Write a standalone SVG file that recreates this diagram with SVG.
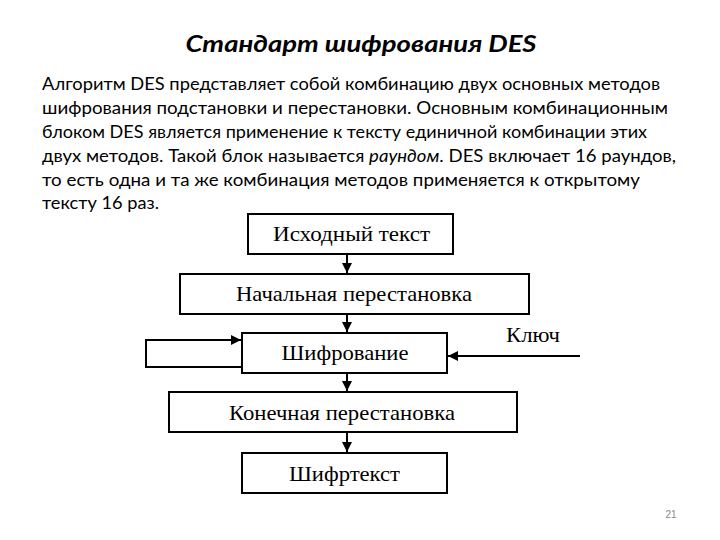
<svg xmlns="http://www.w3.org/2000/svg" width="720" height="540" viewBox="0 0 720 540">
<style>
.box{fill:#fff;stroke:#000;stroke-width:2}
.lbl{font-family:"Liberation Serif","Times New Roman",serif;font-size:22px;fill:#000;text-anchor:middle}
.para{font-family:Lato,"Liberation Sans",sans-serif;font-size:17px;fill:#000}
.conn{fill:none;stroke:#000;stroke-width:2}
</style>
<defs>
<marker id="ah" viewBox="0 0 10 10" refX="10" refY="5" markerWidth="5" markerHeight="5" orient="auto" markerUnits="strokeWidth">
<path d="M0,0 L10,5 L0,10 z" fill="#000"/>
</marker>
</defs>
<rect width="720" height="540" fill="#fff"/>
<g id="title">
<text x="361" y="52" text-anchor="middle" font-family="Lato,'Liberation Sans',sans-serif" font-weight="bold" font-style="italic" font-size="23" textLength="351" lengthAdjust="spacingAndGlyphs">Стандарт шифрования DES</text>
</g>
<g id="paragraph" class="para">
<text x="42" y="90" textLength="618" lengthAdjust="spacingAndGlyphs">Алгоритм DES представляет собой комбинацию двух основных методов</text>
<text x="42" y="114" textLength="626" lengthAdjust="spacingAndGlyphs">шифрования подстановки и перестановки. Основным комбинационным</text>
<text x="42" y="138" textLength="605" lengthAdjust="spacingAndGlyphs">блоком DES является применение к тексту единичной комбинации этих</text>
<text x="42" y="162" textLength="634" lengthAdjust="spacingAndGlyphs">двух методов. Такой блок называется <tspan font-style="italic">раундом</tspan>. DES включает 16 раундов,</text>
<text x="42" y="186" textLength="598" lengthAdjust="spacingAndGlyphs">то есть одна и та же комбинация методов применяется к открытому</text>
<text x="42" y="209" textLength="117" lengthAdjust="spacingAndGlyphs">тексту 16 раз.</text>
</g>
<g id="connectors">
<line class="conn" x1="347" y1="255" x2="347" y2="273" marker-end="url(#ah)"/>
<line class="conn" x1="347" y1="315" x2="347" y2="332" marker-end="url(#ah)"/>
<line class="conn" x1="347" y1="373" x2="347" y2="391" marker-end="url(#ah)"/>
<line class="conn" x1="347" y1="433" x2="347" y2="452" marker-end="url(#ah)"/>
<polyline class="conn" points="242,367 146,367 146,340 241,340" marker-end="url(#ah)"/>
<line class="conn" x1="580" y1="356" x2="448" y2="356" marker-end="url(#ah)"/>
</g>
<g id="n1"><rect class="box" x="248" y="214" width="205" height="40"/><text class="lbl" x="351.5" y="241" textLength="157" lengthAdjust="spacingAndGlyphs">Исходный текст</text></g>
<g id="n2"><rect class="box" x="180" y="274" width="349" height="40"/><text class="lbl" x="354" y="301" textLength="236" lengthAdjust="spacingAndGlyphs">Начальная перестановка</text></g>
<g id="n3"><rect class="box" x="242" y="333" width="205" height="40"/><text class="lbl" x="345" y="360" textLength="127" lengthAdjust="spacingAndGlyphs">Шифрование</text></g>
<g id="n4"><rect class="box" x="169" y="392" width="348" height="40"/><text class="lbl" x="342" y="420" textLength="226" lengthAdjust="spacingAndGlyphs">Конечная перестановка</text></g>
<g id="n5"><rect class="box" x="242" y="453" width="205" height="40"/><text class="lbl" x="344.5" y="481" textLength="111" lengthAdjust="spacingAndGlyphs">Шифртекст</text></g>
<g id="key"><text class="lbl" x="533" y="342" textLength="54" lengthAdjust="spacingAndGlyphs">Ключ</text></g>
<g id="pagenum"><text x="671" y="518" text-anchor="middle" font-family="'Liberation Sans',sans-serif" font-size="10" fill="#888">21</text></g>
</svg>
